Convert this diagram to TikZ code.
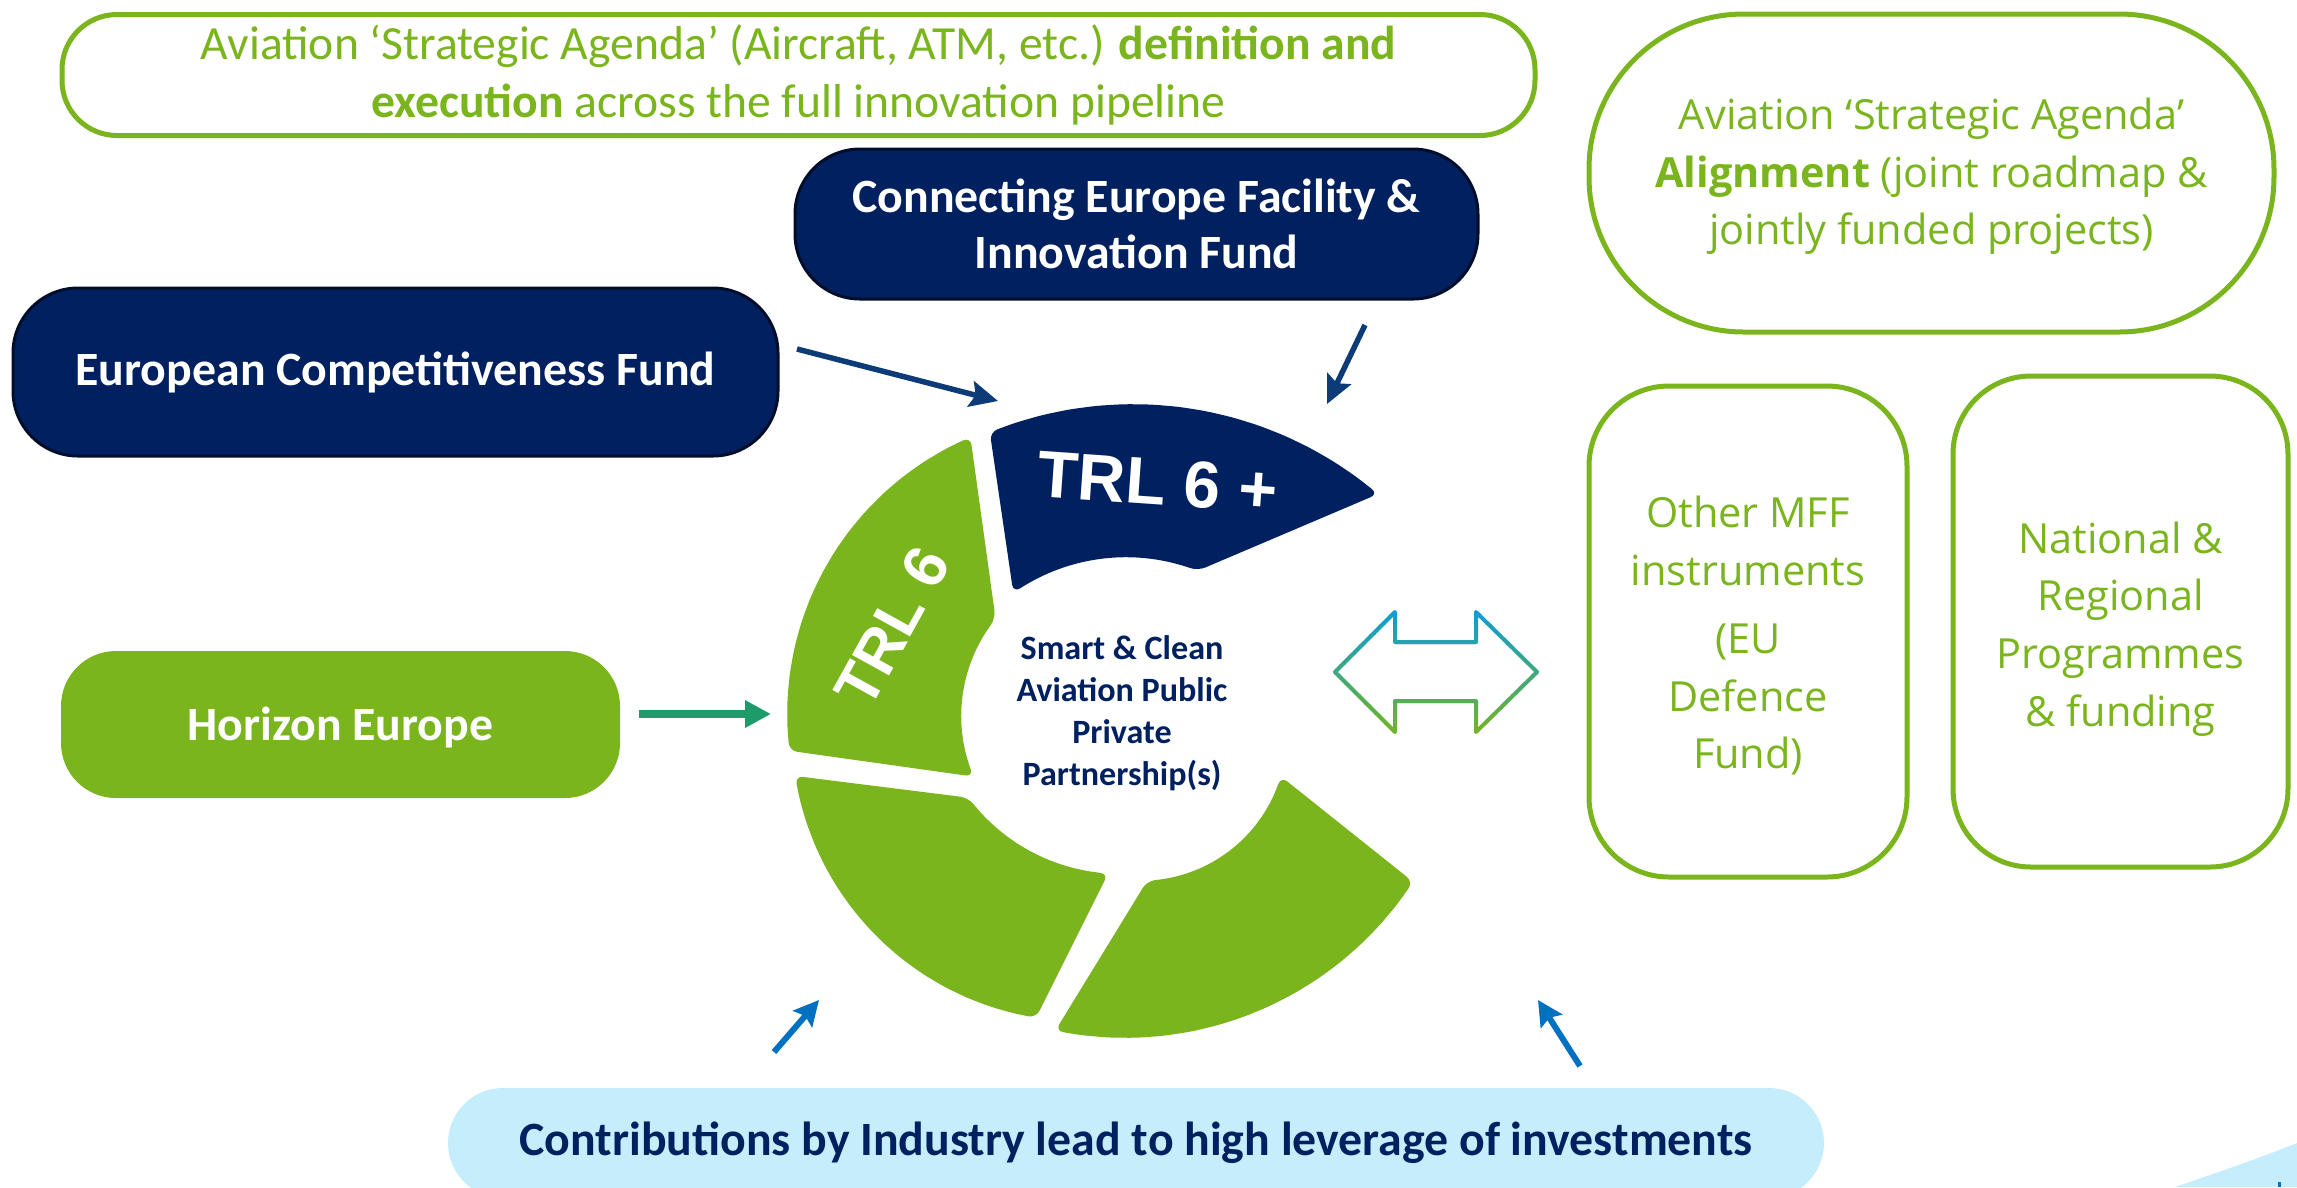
\documentclass[tikz,border=0pt]{standalone}
\usepackage{fontspec}
\setmainfont{Carlito}
\newfontfamily\segoefont{Open Sans}
\newfontfamily\arialfont{Liberation Sans}
\usetikzlibrary{arrows.meta}
\definecolor{cgreen}{HTML}{7AB51D}
\definecolor{cnavy}{HTML}{002060}
\definecolor{arrnavy}{HTML}{0C3B78}
\definecolor{arrteal}{HTML}{1E9B6B}
\definecolor{arrblue}{HTML}{0070C0}
\definecolor{lblue}{HTML}{C6EDFC}
\definecolor{dblue}{HTML}{0A9CDB}
\begin{document}
\begin{tikzpicture}[x=0.1mm, y=-0.1mm,
  gbox/.style={draw=cgreen, line width=0.5mm, fill=white, align=center, text=cgreen, inner sep=0pt},
  nbox/.style={fill=cnavy, draw=black!55!cnavy, line width=0.3mm, align=center, text=white, inner sep=0pt,
    font=\bfseries\fontsize{13.6}{15.9}\selectfont},
  segtxt/.style={font=\segoefont\fontsize{11.8}{16.4}\selectfont},
  ringseg/.style={rounded corners=0.8mm},
  navyarrow/.style={draw=arrnavy, line width=0.55mm, -{Stealth[length=2.8mm,width=2.6mm,inset=0.5mm]}},
  tealarrow/.style={draw=arrteal, line width=0.75mm, -{Triangle[length=2.6mm,width=2.6mm]}},
  bluearrow/.style={draw=arrblue, line width=0.6mm, -{Stealth[length=2.5mm,width=2.5mm,inset=0.4mm]}}
]
\useasboundingbox (0,0) rectangle (2297,1187);
\fill[white] (0,0) rectangle (2297,1187);

% top left box
\node[gbox, minimum width=147.3mm, minimum height=12.1mm, rounded corners=5.5mm,
  font=\fontsize{13.55}{16.3}\selectfont] (agenda) at (798.5,75)
  {Aviation ‘Strategic Agenda’ (Aircraft, ATM, etc.) \textbf{definition and}\\\textbf{execution} across the full innovation pipeline};

% navy boxes
\node[nbox, minimum width=68.3mm, minimum height=15mm, rounded corners=6.5mm] (cef) at (1136.5,224)
  {Connecting Europe Facility \&\\Innovation Fund};
\node[nbox, minimum width=76.5mm, minimum height=16.8mm, rounded corners=6.5mm] (ecf) at (395.5,372)
  {European Competitiveness Fund};

% horizon
\node[fill=cgreen, minimum width=55.9mm, minimum height=14.7mm, rounded corners=5.5mm, text=white,
  font=\bfseries\fontsize{13.6}{15.9}\selectfont] (hor) at (340.5,724.5) {\rule{0pt}{11pt}Horizon Europe};

% bottom box
\node[fill=lblue, minimum width=137.6mm, minimum height=11mm, rounded corners=5.5mm, text=cnavy,
  font=\bfseries\fontsize{13.6}{15.9}\selectfont] (contrib) at (1136,1143)
  {Contributions by Industry lead to high leverage of investments};

% right boxes
\node[gbox, segtxt, minimum width=68.5mm, minimum height=31.8mm, rounded corners=15.5mm] (align) at (1931.5,173)
  {\rule{0pt}{10.8pt}Aviation ‘Strategic Agenda’\\\textbf{Alignment} (joint roadmap \&\\jointly funded projects)};
\node[gbox, segtxt, minimum width=31.8mm, minimum height=49.1mm, rounded corners=8mm] (mff) at (1748,631.5)
  {\rule{0pt}{11.5pt}Other MFF\\instruments\\[3pt](EU\\Defence\\Fund)};
\node[gbox, segtxt, minimum width=33.5mm, minimum height=49.1mm, rounded corners=7.8mm] (nat) at (2120.5,621.5)
  {\rule{0pt}{13.2pt}National \&\\Regional\\Programmes\\\& funding};

% ring segments
% TRL 6
\fill[cgreen, ringseg]
  plot[domain=187:113, samples=16, variable=\t] ({1088+301*cos(\t)},{714-301*sin(\t)})
  -- plot[domain=141:203, samples=12, variable=\t] ({1116+155*cos(\t)},{716-155*sin(\t)})
  -- cycle;
% TRL 6 +
\fill[cnavy, ringseg]
  plot[domain=112.2:49.7, samples=16, variable=\t] ({1133+379*cos(\t)},{783-379*sin(\t)})
  -- plot[domain=68.5:125.1, samples=12, variable=\t] ({1126+196*cos(\t)},{753-196*sin(\t)})
  -- cycle;
% bottom left
\fill[cgreen, ringseg]
  plot[domain=216.6:266.4, samples=12, variable=\t] ({1120+189*cos(\t)},{685-189*sin(\t)})
  -- plot[domain=260.9:188.9, samples=16, variable=\t] ({1082+290.5*cos(\t)},{731-290.5*sin(\t)})
  -- cycle;
% bottom right
\fill[cgreen, ringseg]
  plot[domain=258.3:326.9, samples=16, variable=\t] ({1125+344*cos(\t)},{694-344*sin(\t)})
  -- plot[domain=343.5:272.4, samples=12, variable=\t] ({1141+146*cos(\t)},{735-146*sin(\t)})
  -- cycle;

\node[font=\arialfont\bfseries\fontsize{18.8}{20}\selectfont, text=white, rotate=-4] (trlp) at (1158,482) {TRL 6 +};
\node[font=\arialfont\bfseries\fontsize{17.5}{20}\selectfont, text=white, rotate=61] (trl) at (892,627) {TRL 6};
\node[font=\bfseries\fontsize{9.7}{11.95}\selectfont, text=cnavy, align=center] (ppp) at (1122,713)
  {Smart \& Clean\\Aviation Public\\Private\\Partnership(s)};

% double arrow with gradient outline
\def\dblarrow{(1335,672) -- (1395,612) -- (1395,642) -- (1476,642) -- (1476,612) -- (1537,672) -- (1476,732) -- (1476,701) -- (1395,701) -- (1395,732) -- cycle}
\foreach \i in {0,...,13} {
  \pgfmathtruncatemacro\p{100*\i/13}
  \begin{scope}
    \clip (1320,{604+\i*10}) rectangle (1550,{614.5+\i*10});
    \draw[line width=0.4mm, line join=round, color=cgreen!\p!dblue] \dblarrow;
  \end{scope}
}

% arrows
\coordinate (ecfA) at (797,349); \coordinate (ecfB) at (998,401);
\coordinate (cefA) at (1365,325); \coordinate (cefB) at (1327,404);
\coordinate (horA) at (639,714); \coordinate (horB) at (771,714);
\coordinate (blA) at (774,1052); \coordinate (blB) at (819,1000);
\coordinate (brA) at (1580,1066); \coordinate (brB) at (1538,1000);
\draw[navyarrow] (ecfA) -- (ecfB);
\draw[navyarrow] (cefA) -- (cefB);
\draw[tealarrow] (horA) -- (horB);
\draw[bluearrow] (blA) -- (blB);
\draw[bluearrow] (brA) -- (brB);

% corner decoration
\fill[lblue] (2175,1187) .. controls (2225,1170) and (2265,1156) .. (2297,1143) -- (2297,1187) -- cycle;
\fill[arrblue] (2278,1182) rectangle (2281,1187);
\end{tikzpicture}
\end{document}
